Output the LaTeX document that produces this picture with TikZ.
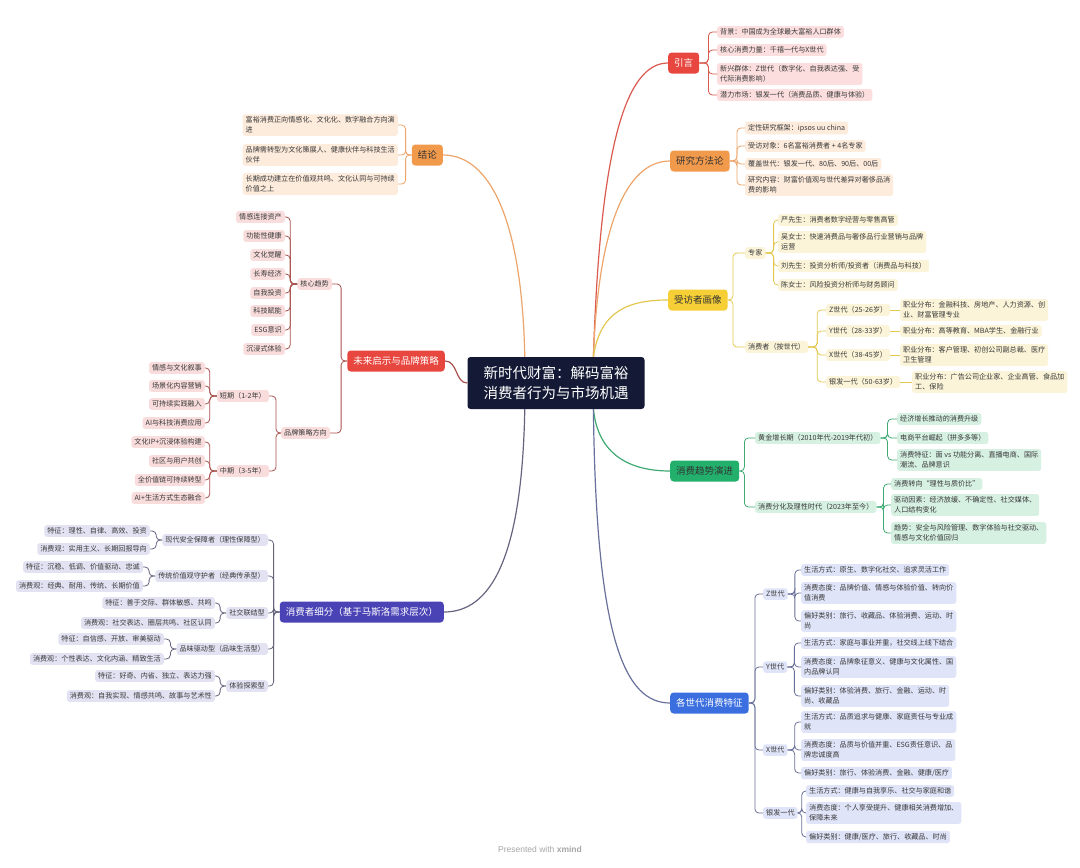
\documentclass[tikz,border=0pt]{standalone}
\usepackage{fontspec}
\setmainfont{Noto Sans CJK SC}
\newfontfamily\latn{Liberation Sans}
\definecolor{ctrC}{HTML}{141A35}
\definecolor{rA}{HTML}{E8473F}\definecolor{rL}{HTML}{FBDEDD}\definecolor{rLine}{HTML}{DB5A50}
\definecolor{oA}{HTML}{F29A4C}\definecolor{oL}{HTML}{FDEBDC}\definecolor{oLine}{HTML}{EDA56B}
\definecolor{yA}{HTML}{F6CE36}\definecolor{yL}{HTML}{FBF4D8}\definecolor{yLine}{HTML}{E3C84F}
\definecolor{gA}{HTML}{22B06C}\definecolor{gL}{HTML}{D6F0E2}\definecolor{gLine}{HTML}{3FAA72}
\definecolor{bA}{HTML}{3B6FE0}\definecolor{bL}{HTML}{E0E4F8}\definecolor{bLine}{HTML}{69719A}
\definecolor{fL}{HTML}{F9DCDC}\definecolor{fLine}{HTML}{A8514C}
\definecolor{pA}{HTML}{4A43B6}\definecolor{pL}{HTML}{E3E2F3}\definecolor{pLine}{HTML}{66657F}
\tikzset{
  mainn/.style={rounded corners=3.5pt, inner xsep=6pt, inner ysep=0pt, minimum height=21pt, font=\fontsize{9.5}{11}\selectfont, text=black!80},
  lf/.style={rounded corners=2.5pt, inner xsep=3pt, inner ysep=2.5pt, align=left, font=\fontsize{7.1}{10}\selectfont, text=black!78},
  con/.style={rounded corners=4pt, line width=0.8pt},
  mcon/.style={line width=1.2pt},
}
\begin{document}
\begin{tikzpicture}[x=1pt,y=-1pt]
\useasboundingbox (0,0) rectangle (1080,868);
\fill[white] (0,0) rectangle (1080,868);

% center
\node[fill=ctrC, text=white, rounded corners=3pt, minimum width=177pt, minimum height=52pt, align=center, font=\fontsize{14.5}{20}\selectfont] (ctr) at (556,383) {新时代财富：解码富裕\\消费者行为与市场机遇};

% main nodes
\node[mainn, fill=rA, text=white, anchor=west] (yin) at (668,63) {引言};
\node[mainn, fill=oA, anchor=west] (yj) at (670,161) {研究方法论};
\node[mainn, fill=yA, anchor=west] (sf) at (668,300) {受访者画像};
\node[mainn, fill=gA, anchor=west] (qs) at (670,471) {消费趋势演进};
\node[mainn, fill=bA, text=white, anchor=west] (gs) at (670,703) {各世代消费特征};
\node[mainn, fill=oA, anchor=east] (jl) at (443,155) {结论};
\node[mainn, fill=rA, text=white, anchor=east] (wl) at (445,361) {未来启示与品牌策略};
\node[mainn, fill=pA, text=white, anchor=east] (xf) at (444,612) {消费者细分（基于马斯洛需求层次）};

% main connectors
\draw[mcon, rLine] (ctr.35) .. controls (600,150) and (625,63) .. (yin.west);
\draw[mcon, oLine] (ctr.35) .. controls (598,230) and (625,161) .. (yj.west);
\draw[mcon, yLine] (ctr.35) .. controls (600,310) and (630,300) .. (sf.west);
\draw[mcon, gLine] (ctr.-35) .. controls (598,455) and (630,471) .. (qs.west);
\draw[mcon, bLine] (ctr.-35) .. controls (596,640) and (625,703) .. (gs.west);
\draw[mcon, oLine] (ctr.140) .. controls (522,220) and (490,155) .. (jl.east);
\draw[mcon, fLine] (ctr.west) .. controls (455,383) and (458,361) .. (wl.east);
\draw[mcon, pLine] (ctr.-140) .. controls (522,560) and (490,612) .. (xf.east);

% ---------- 引言
\node[lf, fill=rL, anchor=west] (y1) at (717,32) {背景：中国成为全球最大富裕人口群体};
\node[lf, fill=rL, anchor=west] (y2) at (717,50) {核心消费力量：千禧一代与X世代};
\node[lf, fill=rL, anchor=west] (y3) at (717,74) {新兴群体：Z世代（数字化、自我表达强、受\\代际消费影响）};
\node[lf, fill=rL, anchor=west] (y4) at (717,95) {潜力市场：银发一代（消费品质、健康与体验）};
\foreach \n in {y1,y2,y3,y4} \draw[con, rLine] (yin.east) -- ++(9,0) |- (\n.west);

% ---------- 研究方法论
\node[lf, fill=oL, anchor=west] (j1) at (745,128) {定性研究框架：ipsos uu china};
\node[lf, fill=oL, anchor=west] (j2) at (745,146) {受访对象：6名富裕消费者 + 4名专家};
\node[lf, fill=oL, anchor=west] (j3) at (745,164) {覆盖世代：银发一代、80后、90后、00后};
\node[lf, fill=oL, anchor=west] (j4) at (745,185) {研究内容：财富价值观与世代差异对奢侈品消\\费的影响};
\foreach \n in {j1,j2,j3,j4} \draw[con, oLine] (yj.east) -- ++(7,0) |- (\n.west);

% ---------- 受访者画像
\node[lf, fill=yL, anchor=west] (zj) at (745,253) {专家};
\node[lf, fill=yL, anchor=west] (xc) at (745,347) {消费者（按世代）};
\foreach \n in {zj,xc} \draw[con, yLine] (sf.east) -- ++(5,0) |- (\n.west);
\node[lf, fill=yL, anchor=west] (e1) at (778,220) {严先生：消费者数字经营与零售高管};
\node[lf, fill=yL, anchor=west] (e2) at (778,242) {吴女士：快速消费品与奢侈品行业营销与品牌\\运营};
\node[lf, fill=yL, anchor=west] (e3) at (778,266) {刘先生：投资分析师/投资者（消费品与科技）};
\node[lf, fill=yL, anchor=west] (e4) at (778,285) {陈女士：风险投资分析师与财务顾问};
\foreach \n in {e1,e2,e3,e4} \draw[con, yLine] (zj.east) -- ++(8,0) |- (\n.west);
\node[lf, fill=yL, anchor=west] (gz) at (826,310) {Z世代（25-26岁）};
\node[lf, fill=yL, anchor=west] (gy) at (826,331) {Y世代（28-33岁）};
\node[lf, fill=yL, anchor=west] (gx) at (826,355) {X世代（38-45岁）};
\node[lf, fill=yL, anchor=west] (gb) at (826,382) {银发一代（50-63岁）};
\foreach \n in {gz,gy,gx,gb} \draw[con, yLine] (xc.east) -- ++(9,0) |- (\n.west);
\node[lf, fill=yL, anchor=west] (oz) at (900,310) {职业分布：金融科技、房地产、人力资源、创\\业、财富管理专业};
\node[lf, fill=yL, anchor=west] (oy) at (900,331) {职业分布：高等教育、MBA学生、金融行业};
\node[lf, fill=yL, anchor=west] (ox) at (900,355) {职业分布：客户管理、初创公司副总裁、医疗\\卫生管理};
\node[lf, fill=yL, anchor=west] (ob) at (912,382) {职业分布：广告公司企业家、企业高管、食品加\\工、保险};
\draw[con, yLine] (gz.east) -- (oz.west);
\draw[con, yLine] (gy.east) -- (oy.west);
\draw[con, yLine] (gx.east) -- (ox.west);
\draw[con, yLine] (gb.east) -- (ob.west);

% ---------- 消费趋势演进
\node[lf, fill=gL, anchor=west] (t1) at (755,438) {黄金增长期（2010年代-2019年代初）};
\node[lf, fill=gL, anchor=west] (t2) at (755,507) {消费分化及理性时代（2023年至今）};
\foreach \n in {t1,t2} \draw[con, gLine] (qs.east) -- ++(5,0) |- (\n.west);
\node[lf, fill=gL, anchor=west] (t11) at (897,419) {经济增长推动的消费升级};
\node[lf, fill=gL, anchor=west] (t12) at (897,438) {电商平台崛起（拼多多等）};
\node[lf, fill=gL, anchor=west] (t13) at (897,460) {消费特征：面 vs 功能分离、直播电商、国际\\潮流、品牌意识};
\foreach \n in {t11,t12,t13} \draw[con, gLine] (t1.east) -- ++(7,0) |- (\n.west);
\node[lf, fill=gL, anchor=west] (t21) at (891,484) {消费转向“理性与质价比”};
\node[lf, fill=gL, anchor=west] (t22) at (891,505) {驱动因素：经济放缓、不确定性、社交媒体、\\人口结构变化};
\node[lf, fill=gL, anchor=west] (t23) at (891,533) {趋势：安全与风险管理、数字体验与社交驱动、\\情感与文化价值回归};
\foreach \n in {t21,t22,t23} \draw[con, gLine] (t2.east) -- ++(7,0) |- (\n.west);

% ---------- 各世代消费特征
\node[lf, fill=bL, anchor=west] (sz) at (763,594) {Z世代};
\node[lf, fill=bL, anchor=west] (sy) at (763,667) {Y世代};
\node[lf, fill=bL, anchor=west] (sx) at (763,750) {X世代};
\node[lf, fill=bL, anchor=west] (sb) at (763,813) {银发一代};
\foreach \n in {sz,sy,sx,sb} \draw[con, bLine] (gs.east) -- ++(6,0) |- (\n.west);
\node[lf, fill=bL, anchor=west] (z1) at (801,570) {生活方式：原生、数字化社交、追求灵活工作};
\node[lf, fill=bL, anchor=west] (z2) at (801,593) {消费态度：品牌价值、情感与体验价值、转向价\\值消费};
\node[lf, fill=bL, anchor=west] (z3) at (801,621) {偏好类别：旅行、收藏品、体验消费、运动、时\\尚};
\foreach \n in {z1,z2,z3} \draw[con, bLine] (sz.east) -- ++(7,0) |- (\n.west);
\node[lf, fill=bL, anchor=west] (ya) at (801,643) {生活方式：家庭与事业并重，社交线上线下结合};
\node[lf, fill=bL, anchor=west] (yb) at (801,667) {消费态度：品牌象征意义、健康与文化属性、国\\内品牌认同};
\node[lf, fill=bL, anchor=west] (yc) at (801,696) {偏好类别：体验消费、旅行、金融、运动、时\\尚、收藏品};
\foreach \n in {ya,yb,yc} \draw[con, bLine] (sy.east) -- ++(7,0) |- (\n.west);
\node[lf, fill=bL, anchor=west] (xa) at (801,722) {生活方式：品质追求与健康、家庭责任与专业成\\就};
\node[lf, fill=bL, anchor=west] (xb) at (801,750) {消费态度：品质与价值并重、ESG责任意识、品\\牌忠诚度高};
\node[lf, fill=bL, anchor=west] (xc2) at (801,773) {偏好类别：旅行、体验消费、金融、健康/医疗};
\foreach \n in {xa,xb,xc2} \draw[con, bLine] (sx.east) -- ++(7,0) |- (\n.west);
\node[lf, fill=bL, anchor=west] (ba) at (806,791) {生活方式：健康与自我享乐、社交与家庭和谐};
\node[lf, fill=bL, anchor=west] (bb) at (806,813) {消费态度：个人享受提升、健康相关消费增加、\\保障未来};
\node[lf, fill=bL, anchor=west] (bc) at (806,837) {偏好类别：健康/医疗、旅行、收藏品、时尚};
\foreach \n in {ba,bb,bc} \draw[con, bLine] (sb.east) -- ++(4,0) |- (\n.west);

% ---------- 结论
\node[lf, fill=oL, anchor=east] (c1) at (398,125) {富裕消费正向情感化、文化化、数字融合方向演\\进};
\node[lf, fill=oL, anchor=east] (c2) at (398,155) {品牌需转型为文化策展人、健康伙伴与科技生活\\伙伴};
\node[lf, fill=oL, anchor=east] (c3) at (398,184) {长期成功建立在价值观共鸣、文化认同与可持续\\价值之上};
\foreach \n in {c1,c2,c3} \draw[con, oLine] (jl.west) -- ++(-6,0) |- (\n.east);

% ---------- 未来启示与品牌策略
\node[lf, fill=fL, anchor=east] (hx) at (332,284) {核心趋势};
\node[lf, fill=fL, anchor=east] (cl) at (330,433) {品牌策略方向};
\foreach \n in {hx,cl} \draw[con, fLine] (wl.west) -- ++(-6,0) |- (\n.east);
\node[lf, fill=fL, anchor=east] (h1) at (285,217) {情感连接资产};
\node[lf, fill=fL, anchor=east] (h2) at (285,236) {功能性健康};
\node[lf, fill=fL, anchor=east] (h3) at (285,255) {文化觉醒};
\node[lf, fill=fL, anchor=east] (h4) at (285,274) {长寿经济};
\node[lf, fill=fL, anchor=east] (h5) at (285,293) {自我投资};
\node[lf, fill=fL, anchor=east] (h6) at (285,311) {科技赋能};
\node[lf, fill=fL, anchor=east] (h7) at (285,330) {ESG意识};
\node[lf, fill=fL, anchor=east] (h8) at (285,349) {沉浸式体验};
\foreach \n in {h1,h2,h3,h4,h5,h6,h7,h8} \draw[con, fLine] (hx.west) -- ++(-7,0) |- (\n.east);
\node[lf, fill=fL, anchor=east] (dq) at (269,396) {短期（1-2年）};
\node[lf, fill=fL, anchor=east] (zq) at (269,471) {中期（3-5年）};
\foreach \n in {dq,zq} \draw[con, fLine] (cl.west) -- ++(-5,0) |- (\n.east);
\node[lf, fill=fL, anchor=east] (d1) at (205,368) {情感与文化叙事};
\node[lf, fill=fL, anchor=east] (d2) at (205,386) {场景化内容营销};
\node[lf, fill=fL, anchor=east] (d3) at (205,404) {可持续实践融入};
\node[lf, fill=fL, anchor=east] (d4) at (205,423) {AI与科技消费应用};
\foreach \n in {d1,d2,d3,d4} \draw[con, fLine] (dq.west) -- ++(-7,0) |- (\n.east);
\node[lf, fill=fL, anchor=east] (m1) at (205,442) {文化IP+沉浸体验构建};
\node[lf, fill=fL, anchor=east] (m2) at (205,461) {社区与用户共创};
\node[lf, fill=fL, anchor=east] (m3) at (205,480) {全价值链可持续转型};
\node[lf, fill=fL, anchor=east] (m4) at (205,498) {AI+生活方式生态融合};
\foreach \n in {m1,m2,m3,m4} \draw[con, fLine] (zq.west) -- ++(-7,0) |- (\n.east);

% ---------- 消费者细分
\node[lf, fill=pL, anchor=east] (p1) at (268,540) {现代安全保障者（理性保障型）};
\node[lf, fill=pL, anchor=east] (p2) at (268,576) {传统价值观守护者（经典传承型）};
\node[lf, fill=pL, anchor=east] (p3) at (268,613) {社交联结型};
\node[lf, fill=pL, anchor=east] (p4) at (268,649) {品味驱动型（品味生活型）};
\node[lf, fill=pL, anchor=east] (p5) at (268,686) {体验探索型};
\foreach \n in {p1,p2,p3,p4,p5} \draw[con, pLine] (xf.west) -- ++(-6,0) |- (\n.east);
\node[lf, fill=pL, anchor=east] (p1a) at (150,531) {特征：理性、自律、高效、投资};
\node[lf, fill=pL, anchor=east] (p1b) at (150,549) {消费观：实用主义、长期回报导向};
\foreach \n in {p1a,p1b} \draw[con, pLine] (p1.west) -- ++(-6,0) |- (\n.east);
\node[lf, fill=pL, anchor=east] (p2a) at (143,567) {特征：沉稳、低调、价值驱动、忠诚};
\node[lf, fill=pL, anchor=east] (p2b) at (143,586) {消费观：经典、耐用、传统、长期价值};
\foreach \n in {p2a,p2b} \draw[con, pLine] (p2.west) -- ++(-6,0) |- (\n.east);
\node[lf, fill=pL, anchor=east] (p3a) at (215,603) {特征：善于交际、群体敏感、共鸣};
\node[lf, fill=pL, anchor=east] (p3b) at (215,623) {消费观：社交表达、圈层共鸣、社区认同};
\foreach \n in {p3a,p3b} \draw[con, pLine] (p3.west) -- ++(-6,0) |- (\n.east);
\node[lf, fill=pL, anchor=east] (p4a) at (164,639) {特征：自信感、开放、审美驱动};
\node[lf, fill=pL, anchor=east] (p4b) at (164,659) {消费观：个性表达、文化内涵、精致生活};
\foreach \n in {p4a,p4b} \draw[con, pLine] (p4.west) -- ++(-6,0) |- (\n.east);
\node[lf, fill=pL, anchor=east] (p5a) at (215,676) {特征：好奇、内省、独立、表达力强};
\node[lf, fill=pL, anchor=east] (p5b) at (215,696) {消费观：自我实现、情感共鸣、故事与艺术性};
\foreach \n in {p5a,p5b} \draw[con, pLine] (p5.west) -- ++(-6,0) |- (\n.east);

% footer
\node[font=\latn\fontsize{8.5}{10}\selectfont, text=black!35] (ft) at (540,849) {Presented with \textbf{xmind}};
\end{tikzpicture}
\end{document}
